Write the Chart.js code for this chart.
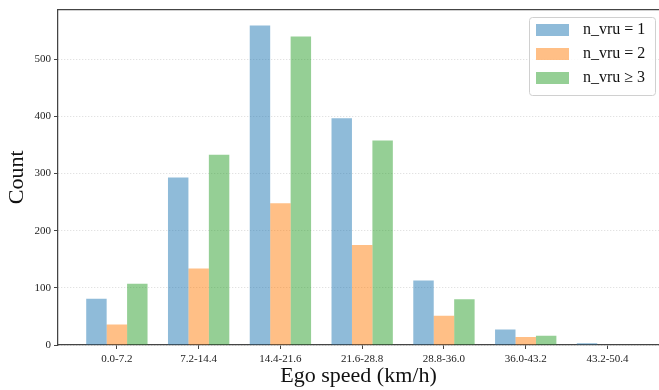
<!DOCTYPE html>
<html>
<head>
<meta charset="utf-8">
<script src="https://cdn.jsdelivr.net/npm/chart.js@4/dist/chart.umd.min.js"></script>
<style>
  html, body { margin: 0; padding: 0; background: #fff; overflow: hidden; }
  #wrap { width: 659px; height: 390px; }
</style>
</head>
<body>
<div id="wrap"><canvas id="grafico"></canvas></div>
<script>
// dados
const faixas = ["0.0-7.2", "7.2-14.4", "14.4-21.6", "21.6-28.8", "28.8-36.0", "36.0-43.2", "43.2-50.4"];
const vru1 = [81, 293, 559, 397, 113, 27, 3];
const vru2 = [36, 134, 248, 175, 51, 14, 1];
const vru3 = [107, 333, 540, 358, 80, 16, 1];
const rotulos = ["n_vru = 1", "n_vru = 2", "n_vru \u2265 3"];
const yTicks = [0, 100, 200, 300, 400, 500];

const cores = ["rgba(31,119,180,0.5)", "rgba(255,127,14,0.5)", "rgba(44,160,44,0.5)"];
const serif = "'Liberation Serif', 'DejaVu Serif', serif";

const pontos = arr => arr.map((v, i) => ({ x: i, y: v }));

// moldura superior + legenda com caixa
const extras = {
  id: "extras",
  afterDraw(chart) {
    const { ctx, chartArea } = chart;
    ctx.save();
    ctx.strokeStyle = "#444";
    ctx.lineWidth = 1.25;
    ctx.beginPath();
    ctx.moveTo(chartArea.left, chartArea.top);
    ctx.lineTo(chartArea.right, chartArea.top);
    ctx.stroke();

    // legenda
    const bx = 529, by = 17, bw = 126, bh = 78;
    ctx.fillStyle = "rgba(255,255,255,0.85)";
    ctx.strokeStyle = "#d0d0d0";
    ctx.lineWidth = 1;
    ctx.beginPath();
    ctx.roundRect(bx + 0.5, by + 0.5, bw, bh, 3);
    ctx.fill();
    ctx.stroke();

    ctx.font = "16px " + serif;
    ctx.textBaseline = "middle";
    chart.data.datasets.forEach((ds, i) => {
      const cy = 30 + i * 24;
      ctx.fillStyle = ds.backgroundColor;
      ctx.fillRect(536, cy - 6, 33, 12);
      ctx.fillStyle = "#111";
      ctx.fillText(ds.label, 583, cy);
    });
    ctx.restore();
  }
};

new Chart(document.getElementById("grafico"), {
  type: "bar",
  data: {
    datasets: [
      { label: rotulos[0], data: pontos(vru1), backgroundColor: cores[0] },
      { label: rotulos[1], data: pontos(vru2), backgroundColor: cores[1] },
      { label: rotulos[2], data: pontos(vru3), backgroundColor: cores[2] }
    ]
  },
  options: {
    responsive: true,
    maintainAspectRatio: false,
    animation: false,
    layout: { padding: { top: 9, right: 0, left: 0, bottom: 0 } },
    datasets: { bar: { categoryPercentage: 0.75, barPercentage: 1, borderWidth: 0 } },
    plugins: { legend: { display: false }, tooltip: { enabled: false } },
    scales: {
      x: {
        type: "linear",
        offset: false,
        min: -0.72,
        max: 6.63,
        afterBuildTicks: s => { s.ticks = faixas.map((_, i) => ({ value: i })); },
        afterFit: s => { s.height = 45; },
        ticks: {
          callback: v => faixas[v] ?? "",
          font: { family: serif, size: 11 },
          color: "#222",
          padding: 4,
          maxRotation: 0,
          autoSkip: false
        },
        grid: { offset: false, drawOnChartArea: false, tickLength: 4, color: "#444", tickWidth: 1 },
        border: { color: "#444", width: 1.25 },
        title: {
          display: true,
          text: "Ego speed (km/h)",
          font: { family: serif, size: 22 },
          color: "#111",
          padding: { top: 0, bottom: 1 }
        }
      },
      y: {
        min: 0,
        max: 587,
        afterBuildTicks: s => { s.ticks = yTicks.map(v => ({ value: v })); },
        afterFit: s => { s.width = 58; },
        ticks: { font: { family: serif, size: 11 }, color: "#222", padding: 3 },
        grid: {
          color: "#cfcfcf",
          lineWidth: 0.8,
          tickColor: "#444",
          tickLength: 4,
          tickBorderDash: [],
          tickWidth: 1
        },
        border: { color: "#444", width: 1.25, dash: [1, 2] },
        title: {
          display: true,
          text: "Count",
          font: { family: serif, size: 22 },
          color: "#111",
          padding: { top: 4, bottom: 0 }
        }
      }
    }
  },
  plugins: [extras]
});
</script>
</body>
</html>
